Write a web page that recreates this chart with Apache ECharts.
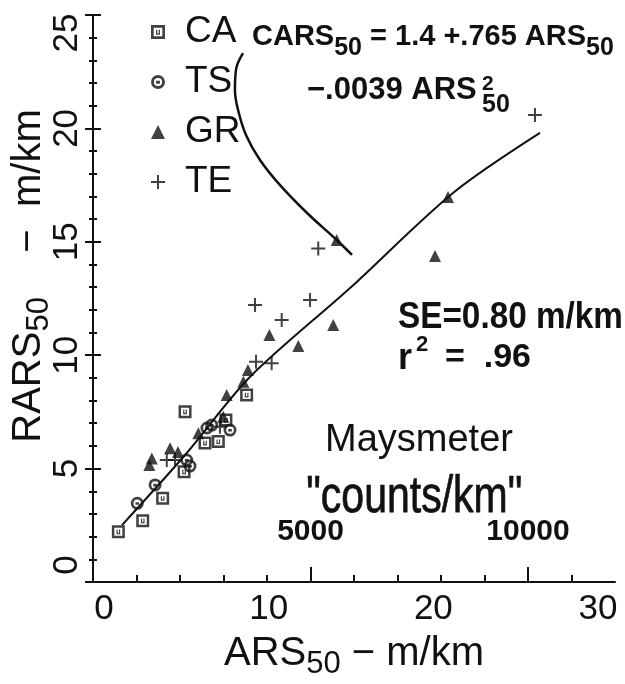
<!DOCTYPE html>
<html>
<head>
<meta charset="utf-8">
<script src="https://cdn.jsdelivr.net/npm/echarts@6/dist/echarts.min.js"></script>
<style>
  html, body { margin: 0; background: #fff; }
  #main { width: 625px; height: 684px; }
</style>
</head>
<body>
<div id="main"></div>
<script>
// points: [ARS50, RARS50] in m/km
const caPoints = [[0.87, 2.22], [2.35, 2.70], [3.56, 3.69], [4.86, 4.86], [4.92, 7.51], [6.13, 6.13], [6.94, 6.19], [7.4, 7.14], [8.66, 8.25]];
const tsPoints = [[2.02, 3.47], [3.10, 4.28], [5.02, 5.38], [5.22, 5.11], [6.25, 6.79], [6.54, 6.92], [7.65, 6.70]];
const grPoints = [[2.75, 5.16], [2.90, 5.45], [4.01, 5.90], [4.49, 5.73], [5.73, 6.56], [7.24, 7.29], [7.45, 8.25], [8.46, 8.83], [8.74, 9.35],
  [10.04, 10.89], [11.80, 10.41], [13.92, 11.33], [14.13, 15.08], [20.10, 14.37], [20.89, 16.98]];
const tePoints = [[3.81, 5.38], [4.31, 5.38], [7.04, 6.85], [9.23, 9.71], [10.18, 9.64], [9.17, 12.21], [10.79, 11.55], [12.51, 12.43], [13.01, 14.71], [26.17, 20.59]];

// fitted curve and the pointer arrow
const fitCurve = [[1.09, 2.51], [4.92, 5.60], [8.86, 9.04], [14.94, 12.96], [21.19, 17.15], [26.47, 19.80]];
const arrowPath = [[8.44, 23.32], [8.01, 22.57], [7.95, 21.69], [8.14, 20.81], [8.62, 19.71], [9.47, 18.61], [10.69, 17.50], [12.33, 16.27], [14.13, 15.08], [15.06, 14.42]];

const xLabels = [0, 10, 20, 30];
const countMinor = [1000, 2000, 3000, 4000, 6000, 7000, 8000, 9000, 11000];
const countMajor = [5000, 10000];

const FONT = "'Liberation Sans', Arial, sans-serif";
const INK = '#111';

// outline square with a small U inside, ring with a mark, plus
const sqPath = 'path://M0 0L12 0L12 12L0 12Z M2.3 2.3L2.3 9.7L9.7 9.7L9.7 2.3Z M4.3 4L5.4 4L5.4 7.2L6.6 7.2L6.6 4L7.7 4L7.7 8.3L4.3 8.3Z';
const ringPath = 'path://M6 0A6 6 0 1 1 6 12A6 6 0 1 1 6 0Z M6 2.5A3.5 3.5 0 1 0 6 9.5A3.5 3.5 0 1 0 6 2.5Z M4.3 5L7.7 5L7.7 7.4L4.3 7.4Z';
const plusPath = 'path://M6 0L8 0L8 6L14 6L14 8L8 8L8 14L6 14L6 8L0 8L0 6L6 6Z';

const tickStyle = { color: INK, width: 2 };
const yLabelFont = { fontFamily: FONT, fontSize: 35, color: INK };

function bold(size) {
  return { fontFamily: FONT, fontSize: size, fontWeight: 'bold', fill: INK };
}

let option = {
  backgroundColor: '#fff',
  animation: false,
  grid: { left: 93, right: 10, top: 15, bottom: 102, outerBoundsMode: 'none' },
  legend: {
    orient: 'vertical',
    left: 146,
    top: 7,
    itemWidth: 14,
    itemHeight: 14,
    itemGap: 10,
    data: ['CA', 'TS', 'GR', 'TE'],
    textStyle: { fontFamily: FONT, fontSize: 37, color: INK, padding: [0, 0, 0, 15], lineHeight: 40 },
  },
  xAxis: [
    {
      type: 'value', min: -0.67, max: 31.03, position: 'bottom',
      axisLine: { onZero: false, lineStyle: tickStyle },
      axisTick: { show: false },
      splitLine: { show: false },
      axisLabel: { customValues: xLabels, fontFamily: FONT, fontSize: 35, color: INK, margin: 10 },
      name: '{a|ARS}{s|50}{a| − m/km}',
      nameLocation: 'middle',
      nameGap: 52,
      nameMoveOverlap: false,
      nameTextStyle: {
        rich: {
          a: { fontFamily: FONT, fontSize: 40, color: INK, verticalAlign: 'top' },
          s: { fontFamily: FONT, fontSize: 31, color: INK, verticalAlign: 'top', padding: [15, 0, 0, 0] },
        },
      },
    },
    {
      // Maysmeter counts/km, minor ticks
      type: 'value', min: 0, max: 12000, position: 'bottom',
      axisLine: { show: false, onZero: false },
      axisTick: { show: true, inside: true, length: 7, customValues: countMinor, lineStyle: tickStyle },
      axisLabel: { show: false },
      splitLine: { show: false },
    },
    {
      type: 'value', min: 0, max: 12000, position: 'bottom',
      axisLine: { show: false, onZero: false },
      axisTick: { show: true, inside: true, length: 15, customValues: countMajor, lineStyle: tickStyle },
      axisLabel: {
        inside: true, customValues: countMajor, margin: 35, formatter: (v) => String(v),
        fontFamily: FONT, fontSize: 30, fontWeight: 'bold', color: INK,
      },
      splitLine: { show: false },
    },
  ],
  yAxis: [
    {
      type: 'value', min: 0, max: 25, interval: 5, position: 'left',
      axisLine: { onZero: false, lineStyle: tickStyle },
      axisTick: { show: true, length: 8, lineStyle: tickStyle },
      minorTick: { show: true, splitNumber: 5, length: 4, lineStyle: tickStyle },
      splitLine: { show: false },
      axisLabel: {
        rotate: 90, margin: 8, ...yLabelFont,
        // end labels sit inside the axis span in the original
        formatter: (v) => (v === 25 ? '{top|25}' : v === 0 ? '{bot|0}' : String(v)),
        rich: {
          top: { ...yLabelFont, padding: [0, 36, 0, 0] },
          bot: { ...yLabelFont, padding: [0, 0, 0, 34] },
        },
      },
      name: '{a|RARS}{s|50}{a|    −  m/km}',
      nameLocation: 'middle',
      nameRotate: 90,
      nameGap: 38,
      nameMoveOverlap: false,
      nameTextStyle: {
        padding: [0, 0, 0, 45],
        rich: {
          a: { fontFamily: FONT, fontSize: 40, color: INK, verticalAlign: 'top' },
          s: { fontFamily: FONT, fontSize: 31, color: INK, verticalAlign: 'top', padding: [15, 0, 0, 0] },
        },
      },
    },
    {
      // same axis, ticks on the inner side
      type: 'value', min: 0, max: 25, interval: 5, position: 'left',
      axisLine: { show: false, onZero: false },
      axisTick: { show: true, inside: true, length: 8, lineStyle: tickStyle },
      minorTick: { show: true, splitNumber: 5, length: 4, lineStyle: tickStyle },
      axisLabel: { show: false },
      splitLine: { show: false },
    },
  ],
  graphic: [
    {
      type: 'text', left: 252, top: 22,
      style: {
        text: '{m|CARS}{s|50}{m| = 1.4 +.765 ARS}{s|50}',
        rich: {
          m: Object.assign(bold(29), { verticalAlign: 'top' }),
          s: Object.assign(bold(25), { verticalAlign: 'top', padding: [14, 0, 0, 0] }),
        },
      },
    },
    { type: 'text', left: 307, top: 75, style: Object.assign(bold(31), { text: '−.0039 ARS' }) },
    { type: 'text', left: 482, top: 74, style: Object.assign(bold(21), { text: '2' }) },
    { type: 'text', left: 482, top: 93, style: Object.assign(bold(25), { text: '50' }) },
    { type: 'text', left: 398, top: 299, scaleX: 0.9, style: Object.assign(bold(37), { text: 'SE=0.80 m/km' }) },
    { type: 'text', left: 398, top: 341, style: Object.assign(bold(36), { text: 'r' }) },
    { type: 'text', left: 416, top: 334, style: Object.assign(bold(22), { text: '2' }) },
    { type: 'text', left: 445, top: 341, style: Object.assign(bold(34), { text: '=  .96' }) },
    { type: 'text', left: 325, top: 422, style: { text: 'Maysmeter', fontFamily: FONT, fontSize: 38, fill: INK } },
    {
      type: 'text', left: 306, top: 472, scaleY: 1.25,
      style: { text: '"counts/km"', fontFamily: FONT, fontSize: 41, fill: INK, stroke: INK, lineWidth: 0.6 },
    },
  ],
  series: [
    {
      name: 'fit', type: 'line', data: fitCurve, smooth: 0.3, showSymbol: false, silent: true,
      lineStyle: { color: INK, width: 2 }, z: 2,
    },
    {
      name: 'arrow', type: 'line', data: arrowPath, smooth: 0.4, showSymbol: false, silent: true,
      lineStyle: { color: INK, width: 2.5 }, z: 2,
    },
    { name: 'CA', type: 'scatter', data: caPoints, symbol: sqPath, symbolSize: 13, itemStyle: { color: INK }, z: 3 },
    { name: 'TS', type: 'scatter', data: tsPoints, symbol: ringPath, symbolSize: 13, itemStyle: { color: INK }, z: 3 },
    { name: 'GR', type: 'scatter', data: grPoints, symbol: 'triangle', symbolSize: 12, itemStyle: { color: INK }, z: 3 },
    { name: 'TE', type: 'scatter', data: tePoints, symbol: plusPath, symbolSize: 14, itemStyle: { color: INK }, z: 3 },
  ],
};

let myChart = echarts.init(document.getElementById('main'));
myChart.setOption(option);
</script>
</body>
</html>
